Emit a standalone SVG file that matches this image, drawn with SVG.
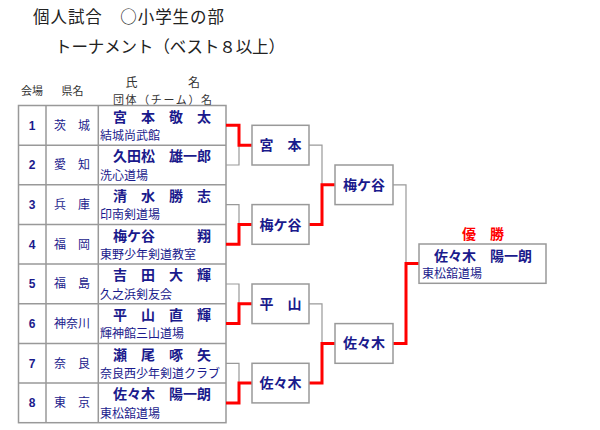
<svg xmlns="http://www.w3.org/2000/svg" width="600" height="430" viewBox="0 0 600 430">
<style>
text{font-family:"Noto Sans CJK JP","Noto Sans",sans-serif;}
.title{font-size:16.5px;fill:#222;}
.hdr{font-size:11px;fill:#333;}
.hdr2{font-size:12px;fill:#333;}
.num{font-family:"Liberation Sans",Arial,sans-serif;font-size:12px;font-weight:bold;fill:#1a1a8c;text-anchor:middle;}
.pref{font-size:12px;fill:#1a1a8c;text-anchor:middle;}
.name{font-size:14px;fill:#1a1a8c;font-weight:bold;}
.team{font-size:12px;fill:#1a1a8c;}
.bx{fill:#fff;stroke:#999;stroke-width:1.5;}
.btxt{font-size:14px;fill:#1a1a8c;font-weight:bold;text-anchor:middle;}
.grid{stroke:#999;stroke-width:1.5;fill:none;}
.lose{stroke:#999;stroke-width:1.2;fill:none;}
.win{stroke:#f00;stroke-width:3;fill:none;}
</style>
<rect width="600" height="430" fill="#fff"/>
<text class="title" x="33" y="22.5" textLength="191" lengthAdjust="spacing">個人試合　○小学生の部</text>
<text class="title" x="55" y="52.5" textLength="230" lengthAdjust="spacing">トーナメント（ベスト８以上）</text>
<g id="header">
<text class="hdr" x="32" y="94.5" text-anchor="middle">会場</text>
<text class="hdr" x="72.5" y="94.5" text-anchor="middle">県名</text>
<text class="hdr2" x="131.5" y="86.5" text-anchor="middle">氏</text>
<text class="hdr2" x="194" y="86.5" text-anchor="middle">名</text>
<text class="hdr" x="113" y="104" textLength="99" lengthAdjust="spacing">団体（チーム）名</text>
</g>
<g id="table" class="grid">
<rect x="18.5" y="105.5" width="207.5" height="317.2"/>
<path d="M46 105.5V422.7M98.3 105.5V422.7M18.5 145.2H226M18.5 184.8H226M18.5 224.5H226M18.5 264.1H226M18.5 303.8H226M18.5 343.4H226M18.5 383.1H226"/>
</g>
<g id="connectors">
<path class="lose" d="M226 165H239V145.2M226 204.6H239V224.5M226 284H239V303.8M226 363.3H239V383.1"/>
<path class="lose" d="M309 145.2H322V184.8M309 303.8H322V343.4M393 184.8H406V263.6"/>
<path class="win" d="M226 125.3H239V145.2H252M226 244.3H239V224.5H252M226 323.6H239V303.8H252M226 402.9H239V383.1H252"/>
<path class="win" d="M309 224.5H322V184.8H335M309 383.1H322V343.4H335M393 343.4H406V263.6H419"/>
</g>
<g id="p1"><text class="num" x="32" y="129.5">1</text><text class="pref" x="72" y="129.5">茨　城</text><text class="name" x="113" y="121.5">宮　本　敬　太</text><text class="team" x="100" y="140">結城尚武館</text></g>
<g id="p2"><text class="num" x="32" y="169.2">2</text><text class="pref" x="72" y="169.2">愛　知</text><text class="name" x="113" y="161.2">久田松　雄一郎</text><text class="team" x="100" y="179.7">洗心道場</text></g>
<g id="p3"><text class="num" x="32" y="208.8">3</text><text class="pref" x="72" y="208.8">兵　庫</text><text class="name" x="113" y="200.8">清　水　勝　志</text><text class="team" x="100" y="219.3">印南剣道場</text></g>
<g id="p4"><text class="num" x="32" y="248.5">4</text><text class="pref" x="72" y="248.5">福　岡</text><text class="name" x="113" y="240.5">梅ケ谷　　　翔</text><text class="team" x="100" y="259">東野少年剣道教室</text></g>
<g id="p5"><text class="num" x="32" y="288.2">5</text><text class="pref" x="72" y="288.2">福　島</text><text class="name" x="113" y="280.2">吉　田　大　輝</text><text class="team" x="100" y="298.7">久之浜剣友会</text></g>
<g id="p6"><text class="num" x="32" y="327.8">6</text><text class="pref" x="72" y="327.8">神奈川</text><text class="name" x="113" y="319.8">平　山　直　輝</text><text class="team" x="100" y="338.3">輝神館三山道場</text></g>
<g id="p7"><text class="num" x="32" y="367.5">7</text><text class="pref" x="72" y="367.5">奈　良</text><text class="name" x="113" y="359.5">瀬　尾　啄　矢</text><text class="team" x="100" y="378">奈良西少年剣道クラブ</text></g>
<g id="p8"><text class="num" x="32" y="407.1">8</text><text class="pref" x="72" y="407.1">東　京</text><text class="name" x="113" y="399.1">佐々木　陽一朗</text><text class="team" x="100" y="417.6">東松舘道場</text></g>
<g id="r1a"><rect class="bx" x="252" y="125.3" width="57" height="39.7"/><text class="btxt" x="280.5" y="150">宮　本</text></g>
<g id="r1b"><rect class="bx" x="252" y="204.6" width="57" height="39.7"/><text class="btxt" x="280.5" y="229.5">梅ケ谷</text></g>
<g id="r1c"><rect class="bx" x="252" y="284" width="57" height="39.6"/><text class="btxt" x="280.5" y="308.8">平　山</text></g>
<g id="r1d"><rect class="bx" x="252" y="363.3" width="57" height="39.6"/><text class="btxt" x="280.5" y="388.1">佐々木</text></g>
<g id="r2a"><rect class="bx" x="335" y="165" width="58" height="39.6"/><text class="btxt" x="364" y="189.8">梅ケ谷</text></g>
<g id="r2b"><rect class="bx" x="335" y="323.6" width="58" height="39.7"/><text class="btxt" x="364" y="348.4">佐々木</text></g>
<g id="champion">
<text x="483" y="239.3" font-size="14" fill="#f00" font-weight="bold" text-anchor="middle">優　勝</text>
<rect class="bx" x="419" y="244" width="127" height="39.3"/>
<text class="name" x="434" y="260.5">佐々木　陽一朗</text>
<text class="team" x="422" y="278.3">東松舘道場</text>
</g>
</svg>
